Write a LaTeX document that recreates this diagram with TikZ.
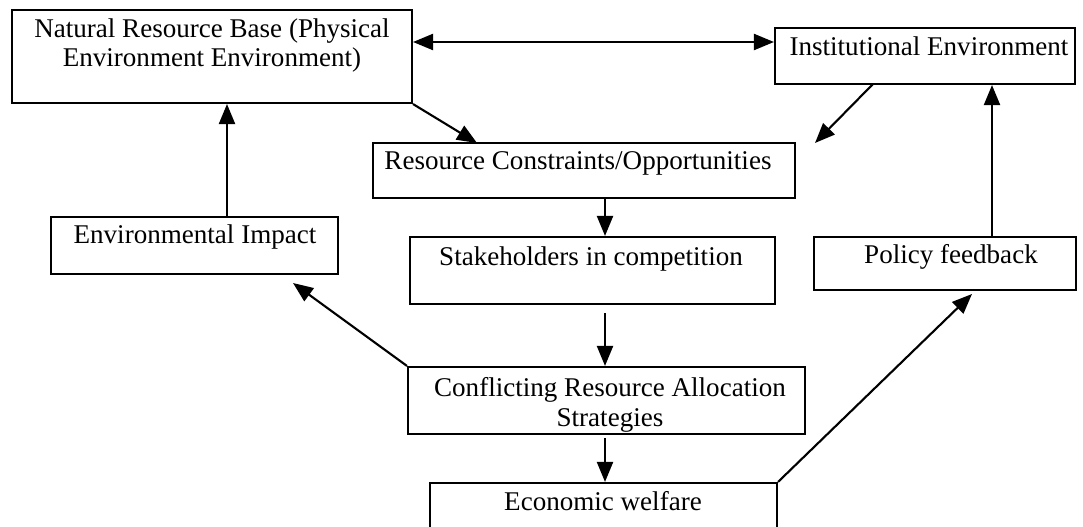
\documentclass[tikz,border=0pt]{standalone}
\usepackage{fontspec}
\setmainfont{Liberation Serif}
\usetikzlibrary{arrows.meta,calc}
\begin{document}
\begin{tikzpicture}[x=0.02cm, y=-0.02cm,
  box/.style={draw, line width=1.2pt, inner sep=0pt, rectangle},
  txt/.style={inner sep=0pt, align=center, anchor=north,
    font=\fontsize{15.4}{17}\selectfont},
  conn/.style={line width=1.2pt, -{Triangle[length=0.4cm, width=0.32cm]}},
  bothconn/.style={line width=1.2pt, {Triangle[length=0.4cm, width=0.32cm]}-{Triangle[length=0.4cm, width=0.32cm]}}]
\useasboundingbox (0,0) rectangle (1083,527);
\clip (0,0) rectangle (1083,527);

% boxes
\node[box, minimum width=8cm,    minimum height=1.86cm] (nrb)  at (212,56.5)   {};
\node[box, minimum width=6cm,    minimum height=1.12cm] (inst) at (925,56)     {};
\node[box, minimum width=8.44cm, minimum height=1.1cm]  (rc)   at (584,170.5)  {};
\node[box, minimum width=7.3cm,  minimum height=1.34cm] (sh)   at (592.5,270.5){};
\node[box, minimum width=5.74cm, minimum height=1.14cm] (env)  at (194.5,245.5){};
\node[box, minimum width=5.24cm, minimum height=1.06cm] (pf)   at (945,263.5)  {};
\node[box, minimum width=7.94cm, minimum height=1.34cm] (cra)  at (606.5,400.5){};
\node[box, minimum width=6.94cm, minimum height=1.6cm]  (ew)   at (603.5,523)  {};

% labels
\node[txt] (nrbt)  at ($(nrb.north)+(0,9)$) {Natural Resource Base (Physical\\Environment Environment)};
\node[txt] (instt) at (929,36)   {Institutional Environment};
\node[txt] (rct)   at (578,151)  {Resource Constraints/Opportunities};
\node[txt] (sht)   at (591,246)  {Stakeholders in competition};
\node[txt] (envt)  at (195,224)  {Environmental Impact};
\node[txt] (pft)   at (951,244)  {Policy feedback};
\node[txt] (crat)  at (610,377)  {Conflicting Resource Allocation\\Strategies};
\node[txt] (ewt)   at (603,491)  {Economic welfare};

% guide coordinates for the straight vertical connectors
\coordinate (spine) at (605,0);
\coordinate (envx)  at (227,0);
\coordinate (pfx)   at (992,0);
\coordinate (instend) at (815,143);

% connectors
\draw[bothconn] (nrb.east |- 0,42) -- (inst.west |- 0,42);
\draw[conn] (nrb.south east) -- (477,143);
\draw[conn] (873,84) -- (instend);
\draw[conn] (spine |- rc.south) -- (spine |- sh.north);
\draw[conn] (605,313) -- (spine |- cra.north);
\draw[conn] (spine |- cra.south) ++(0,3) -- (spine |- ew.north);
\draw[conn] (cra.north west) -- (293,283);
\draw[conn] (envx |- env.north) -- (envx |- nrb.south);
\draw[conn] (ew.north east) -- (972,294);
\draw[conn] (pfx |- pf.north) -- (pfx |- inst.south);
\end{tikzpicture}
\end{document}
